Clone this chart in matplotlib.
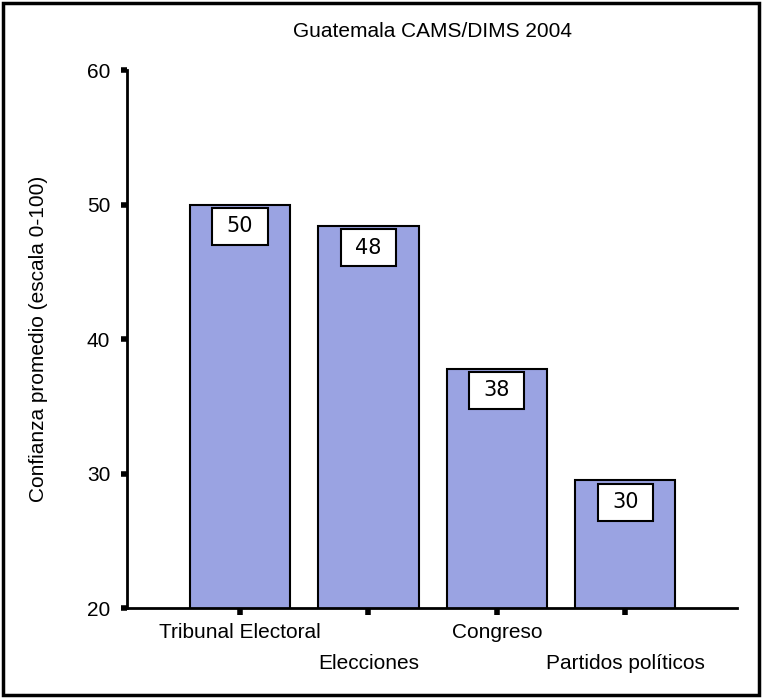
import matplotlib.pyplot as plt
from matplotlib.patches import Rectangle

categories = ['Tribunal Electoral', 'Elecciones', 'Congreso', 'Partidos políticos']
values = [50.0, 48.4, 37.8, 29.5]
value_labels = ['50', '48', '38', '30']

plt.rcParams['font.family'] = ['Liberation Sans', 'DejaVu Sans']

fig = plt.figure(figsize=(7.62, 6.98), dpi=100)
ax = fig.add_axes([0.1667, 0.1289, 0.8005, 0.7708])

x = range(len(categories))
bw = 0.78
ax.bar(x, values, width=bw, color='#9aa3e2', edgecolor='black', linewidth=1.5, zorder=2)

# value boxes under the top of each bar
box_w, box_h = 0.43, 2.75
for i, v in enumerate(values):
    ax.add_patch(Rectangle((i - box_w / 2, v - 0.25 - box_h), box_w, box_h,
                           facecolor='white', edgecolor='black', linewidth=1.5, zorder=3))
    ax.text(i, v - 0.25 - box_h / 2, value_labels[i], ha='center', va='center',
            fontsize=15, family='DejaVu Sans', zorder=4)

ax.set_xlim(-0.88, 3.87)
ax.set_ylim(20, 60)
ax.set_yticks([20, 30, 40, 50, 60])
ax.set_xticks(list(x))
ax.set_xticklabels([c if i % 2 == 0 else '\n' + c for i, c in enumerate(categories)],
                   fontsize=15, linespacing=1.75)

for s in ['top', 'right']:
    ax.spines[s].set_visible(False)
for s in ['left', 'bottom']:
    ax.spines[s].set_linewidth(2)

ax.tick_params(axis='y', direction='out', length=4, width=4, labelsize=15, pad=8)
ax.tick_params(axis='x', direction='out', length=5, width=4, pad=6)

ax.set_ylabel('Confianza promedio (escala 0-100)', fontsize=15, labelpad=28)
ax.set_title('Guatemala CAMS/DIMS 2004', fontsize=15, pad=24)

# frame round the whole picture
fig.patches.append(Rectangle((0.004, 0.004), 0.992, 0.992, transform=fig.transFigure,
                             fill=False, edgecolor='black', linewidth=2.5))

fig.savefig('out.png', dpi=100)
